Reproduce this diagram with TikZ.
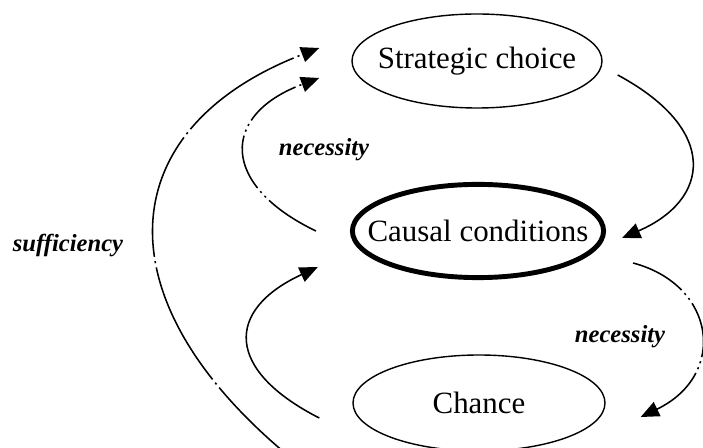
\documentclass[tikz,border=0pt]{standalone}
\usepackage{fontspec}
\setmainfont{Liberation Serif}
\usetikzlibrary{shapes.geometric,arrows.meta}

\begin{document}
\begin{tikzpicture}
        [oval/.style={ellipse, draw, line width=1pt, inner sep=0pt},
        title/.style={font=\fontsize{22}{26}\selectfont},
        edge/.style={line width=1.1pt, -{Triangle[length=13pt,width=11pt]}},
        nec/.style={edge, dash pattern=on 40pt off 3pt on 1.5pt off 3pt on 1.5pt off 3pt},
        suff/.style={edge, dash pattern=on 90pt off 3pt on 1.5pt off 3pt},
        tag/.style={font=\fontsize{17.5}{20}\selectfont\bfseries\itshape}]

        \useasboundingbox (0,0) rectangle (17.575,11.2);

        % the three states
        \node[oval, minimum width=6.25cm, minimum height=2.35cm] (strat) at (11.925,9.675) {};
        \node[oval, line width=3.5pt, minimum width=6.28cm, minimum height=2.33cm] (causal) at (11.95,5.425) {};
        \node[oval, minimum width=6.3cm, minimum height=2.4cm] (chance) at (11.975,1.125) {};

        \node[title] (strattext) at (strat) {Strategic choice};
        \node[title] (causaltext) at (causal) {Causal conditions};
        \node[title] (chancetext) at (chance) {Chance};

        % labels
        \node[tag] (necup) at (8.1,7.45) {necessity};
        \node[tag] (necdown) at (15.5,2.775) {necessity};
        \node[tag] (suffl) at (1.7,5.075) {sufficiency};

        % right hand arrows
        \draw[edge] ([shift={(0.375,-0.35)}]strat.east) .. controls (18.0,7.95) and (17.75,6.2) .. ([shift={(0.4,-0.175)}]causal.east);
        \draw[nec] ([shift={(0.675,-0.8)}]causal.east) .. controls (17.9,4.075) and (18.2,1.825) .. ([shift={(0.875,-0.35)}]chance.east);

        % left hand arrows
        \draw[nec] ([shift={(-0.85,0)}]causal.west) .. controls (5.5,6.575) and (5.5,8.325) .. ([shift={(-0.8,-0.425)}]strat.west);
        \draw[suff] ([shift={(-1.025,-1.775)}]chance.west) .. controls (2.4,3.45) and (2.65,7.95) .. ([shift={(-0.8,0.325)}]strat.west);
        \draw[edge] ([shift={(-0.825,-0.375)}]chance.west) .. controls (5.625,1.95) and (5.625,3.45) .. ([shift={(-0.8,-0.9)}]causal.west);

    \end{tikzpicture}
\end{document}
